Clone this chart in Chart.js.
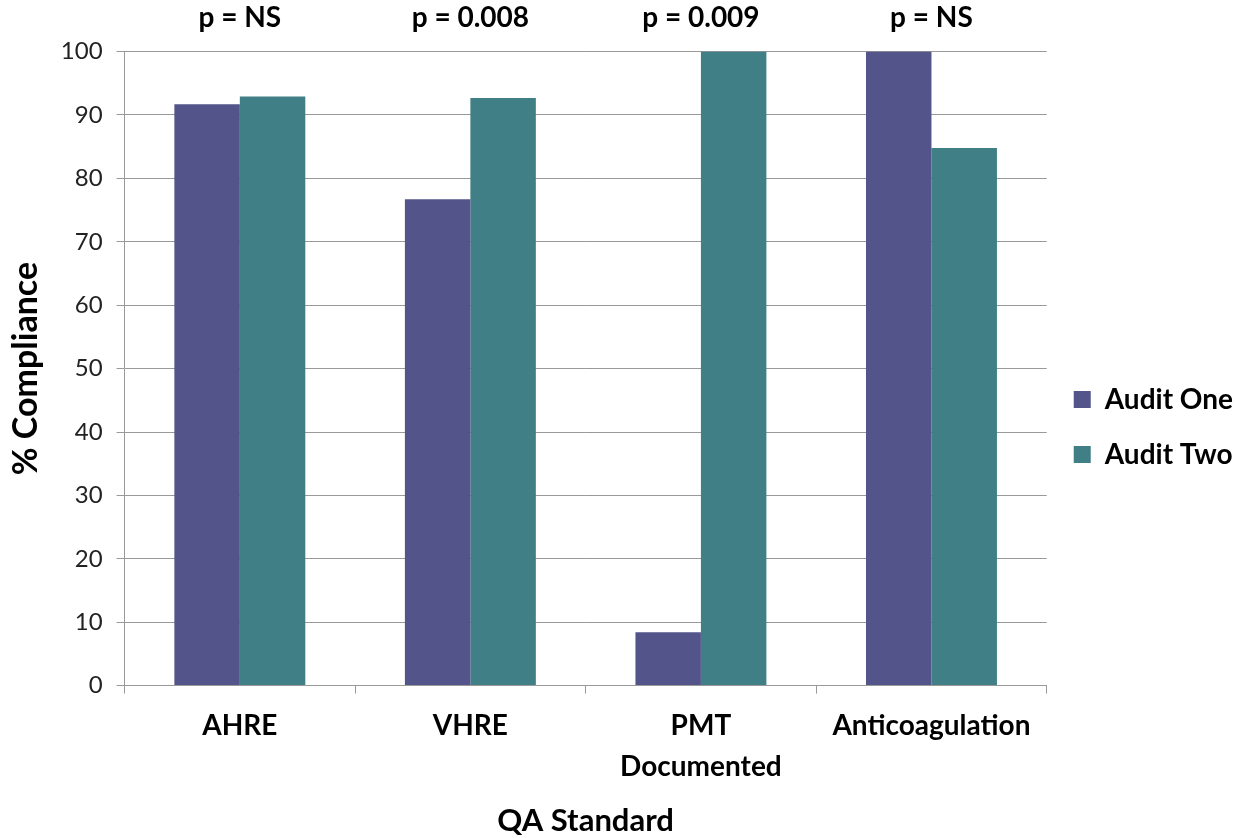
<!DOCTYPE html>
<html>
<head>
<meta charset="utf-8">
<script src="https://cdn.jsdelivr.net/npm/chart.js@4.4.1/dist/chart.umd.min.js"></script>
<style>
	html, body { margin: 0; padding: 0; background: #fff; }
	#caixa { width: 1239px; height: 838px; }
</style>
</head>
<body>
<div id="caixa"><canvas id="grafico"></canvas></div>
<script>
//----------------------------------------Dados----------------------------------------
const categorias = ['AHRE', 'VHRE', ['PMT', 'Documented'], 'Anticoagulation'];
const valores_audit1 = [91.7, 76.7, 8.4, 100];
const valores_audit2 = [92.9, 92.7, 100, 84.8];
const valores_p = ['p = NS', 'p = 0.008', 'p = 0.009', 'p = NS'];
const nomes_series = ['Audit One', 'Audit Two'];

const fonte = "Lato, 'Open Sans', sans-serif";

//----------------------------------------Grafico----------------------------------------
const ctx = document.getElementById('grafico');

new Chart(ctx, {
	type: 'bar',
	data: {
		labels: categorias,
		datasets: [{
			label: nomes_series[0],
			data: valores_audit1,
			backgroundColor: '#53548a',
			categoryPercentage: 0.568,
			barPercentage: 1
		}, {
			label: nomes_series[1],
			data: valores_audit2,
			backgroundColor: '#417f86',
			categoryPercentage: 0.568,
			barPercentage: 1
		}]
	},
	options: {
		responsive: true,
		maintainAspectRatio: false,
		animation: false,
		layout: { padding: { top: -8, right: -4, bottom: -2, left: 6 } },
		scales: {
			x: {
				offset: true,
				grid: {
					offset: true,
					drawOnChartArea: false,
					color: '#999',
					tickLength: 8
				},
				border: { color: '#999' },
				ticks: {
					color: '#000',
					font: { family: fonte, size: 28, weight: 'bold', lineHeight: 1.45 },
					padding: 12,
					maxRotation: 0
				},
				title: {
					display: true,
					text: 'QA Standard',
					color: '#000',
					font: { family: fonte, size: 31, weight: 'bold' },
					padding: { top: 4, bottom: 0 }
				}
			},
			x2: {
				type: 'category',
				labels: valores_p,
				position: 'top',
				offset: true,
				grid: { display: false },
				border: { display: false },
				ticks: {
					color: '#000',
					font: { family: fonte, size: 28, weight: 'bold' },
					padding: 9
				}
			},
			y: {
				min: 0,
				max: 100,
				ticks: {
					stepSize: 10,
					color: '#222',
					font: { family: fonte, size: 24 },
					padding: 14
				},
				grid: {
					color: '#999',
					tickLength: 8
				},
				border: { color: '#999' },
				title: {
					display: true,
					text: '% Compliance',
					color: '#000',
					font: { family: fonte, size: 34, weight: 'bold' },
					padding: { top: 0, bottom: 0 }
				}
			}
		},
		plugins: {
			legend: {
				position: 'right',
				//titulo vazio so para descer um pouco a legenda
				title: {
					display: true,
					text: '',
					font: { size: 10 },
					padding: 5
				},
				labels: {
					color: '#000',
					boxWidth: 17,
					boxHeight: 17,
					padding: 27,
					font: { family: fonte, size: 28, weight: 'bold' }
				}
			},
			tooltip: { enabled: false }
		}
	}
});
</script>
</body>
</html>
